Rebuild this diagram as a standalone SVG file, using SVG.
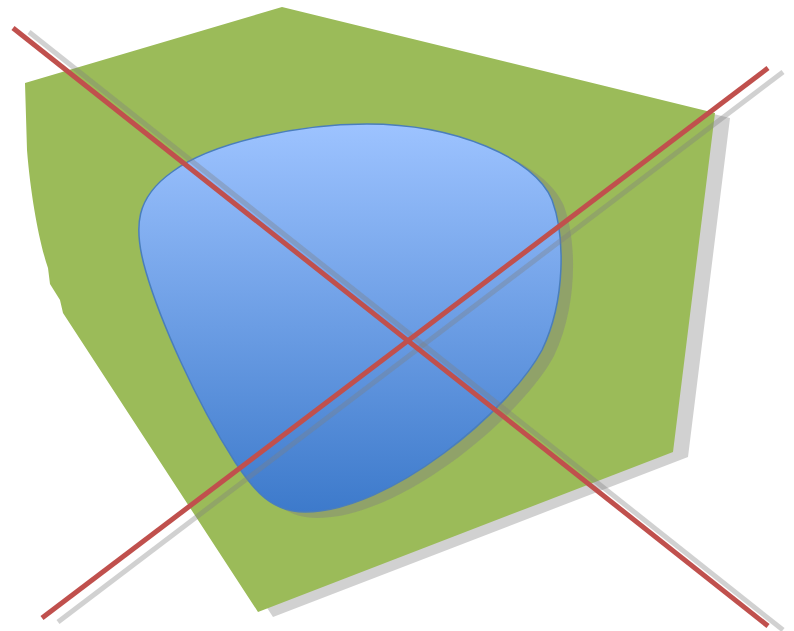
<svg xmlns="http://www.w3.org/2000/svg" width="794" height="631" viewBox="0 0 794 631">
<defs>
<linearGradient id="blueGrad" x1="0" y1="0" x2="0" y2="1">
<stop offset="0" stop-color="#9dc3ff"/>
<stop offset="1" stop-color="#3d7acb"/>
</linearGradient>
<path id="greenShape" d="M282,7 L715,113 L673,452 L258,612 L63,313 L60,300 L50,284 L48,268 C40,245 31,200 27,150 L25,83 Z"/>
<path id="blobShape" d="M367,124 C455,124 535,158 552,200 C565,235 566,300 542,350 C510,410 390,512 305,512 C272,512 255,492 235,462 C195,400 160,320 146,272 C132,225 137,197 172,172 C212,142 300,124 367,124 Z"/>
</defs>
<style>
.shadow{fill:#808080;fill-opacity:0.36}
.lineShadow{stroke:#808080;stroke-opacity:0.36;stroke-width:5;fill:none}
.redLine{stroke:#c0504d;stroke-width:5;fill:none}
</style>
<rect width="794" height="631" fill="#ffffff"/>
<g id="area">
<use href="#greenShape" class="shadow" transform="translate(15,5)"/>
<use href="#greenShape" fill="#9bbb59"/>
</g>
<g id="blob">
<use href="#blobShape" fill="#808080" fill-opacity="0.42" transform="translate(12,6)"/>
<use href="#blobShape" fill="url(#blueGrad)" stroke="#4a7ebb" stroke-width="1.5"/>
</g>
<g id="connectors">
<line class="lineShadow" x1="29" y1="32" x2="783" y2="630"/>
<line class="lineShadow" x1="58" y1="622" x2="783" y2="72"/>
<line class="redLine" x1="13" y1="28" x2="768" y2="626"/>
<line class="redLine" x1="42" y1="618" x2="768" y2="68"/>
</g>
</svg>
